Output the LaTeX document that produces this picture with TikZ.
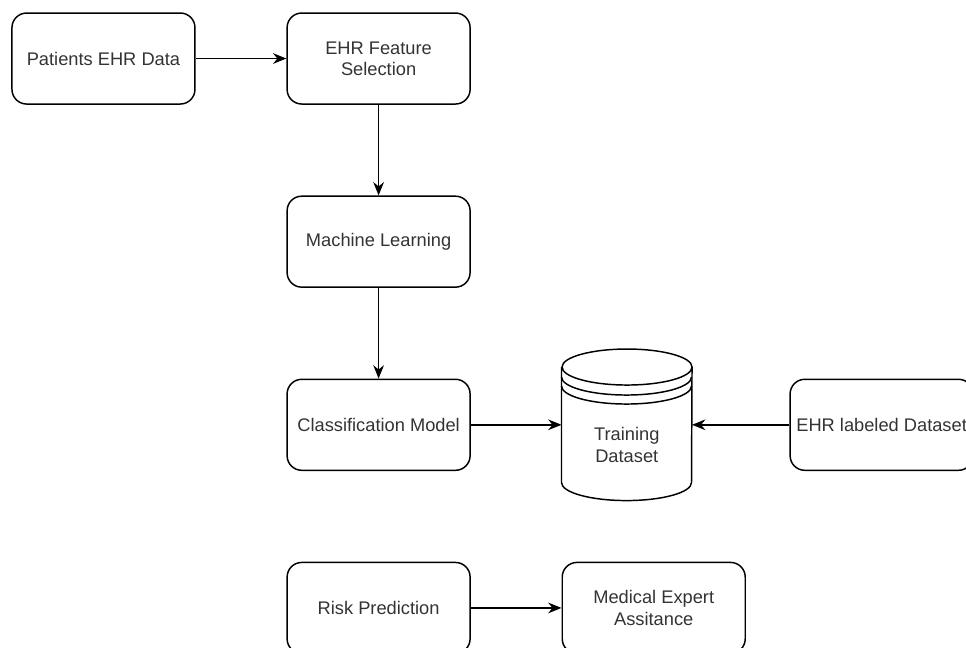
\documentclass[tikz,border=0pt]{standalone}
\usepackage{fontspec}
\setmainfont{Liberation Sans}
\usetikzlibrary{shapes,arrows.meta,positioning}
\definecolor{ink}{rgb}{.2,.2,.2}

\begin{document}
\begin{tikzpicture}[% styles shared by the whole chart
      every node/.style={
        align=center,          % so that "\\" breaks the line
        minimum width=137.25pt,
        minimum height=68.25pt,
        inner sep=0pt,
        text=ink,
        font=\fontsize{13.7}{16}\selectfont
      },
      block/.style={rectangle,rounded corners=11pt,draw=black,line width=1.1pt},
      every edge/.style={draw,line width=1.1pt},
      >={Stealth[length=10pt,width=8pt]},
      node distance=68pt
    ]
    \useasboundingbox (0,0) rectangle (724.5pt,-486pt);
    \node[block](patients) at (77.6pt,-43.9pt){Patients EHR Data};
    \node[block](featsel)[right= of patients]{EHR Feature\\Selection};
    \node[block](ml)[below= of featsel]{Machine Learning};
    \node[block](classif)[below= of ml]{Classification Model};
    \node[block](risk)[below= of classif]{Risk Prediction};
    \node[block](expert)[right= of risk]{Medical Expert\\Assitance};
    \node[minimum width=97.5pt,minimum height=113.25pt](train)[right= of classif]{\\[24pt]Training\\Dataset};
    \node[block](labeled)[right=73pt of train]{EHR labeled Dataset};
    % the data store drawn round the training node
    \draw[line width=1.1pt]
    ([yshift=-13.5pt]train.north west) -- ([yshift=13.5pt]train.south west)
    arc[start angle=180,end angle=360,x radius=48.75pt,y radius=13.5pt]
    -- ([yshift=-13.5pt]train.north east)
    arc[start angle=0,end angle=360,x radius=48.75pt,y radius=13.5pt];
    \draw[line width=1.1pt] ([yshift=-21pt]train.north west)
    arc[start angle=180,end angle=360,x radius=48.75pt,y radius=13.5pt];
    \draw[line width=1.1pt] ([yshift=-27.75pt]train.north west)
    arc[start angle=180,end angle=360,x radius=48.75pt,y radius=13.5pt];
    \path[->]
    (patients)edge [] node [] {} (featsel)
    (featsel)edge [] node [] {} (ml)
    (ml)edge [] node [] {} (classif)
    (classif)edge [] node [] {} (train)
    (labeled)edge [] node [] {} (train)
    (risk)edge [] node [] {} (expert)
    ;
  \end{tikzpicture}
\end{document}
